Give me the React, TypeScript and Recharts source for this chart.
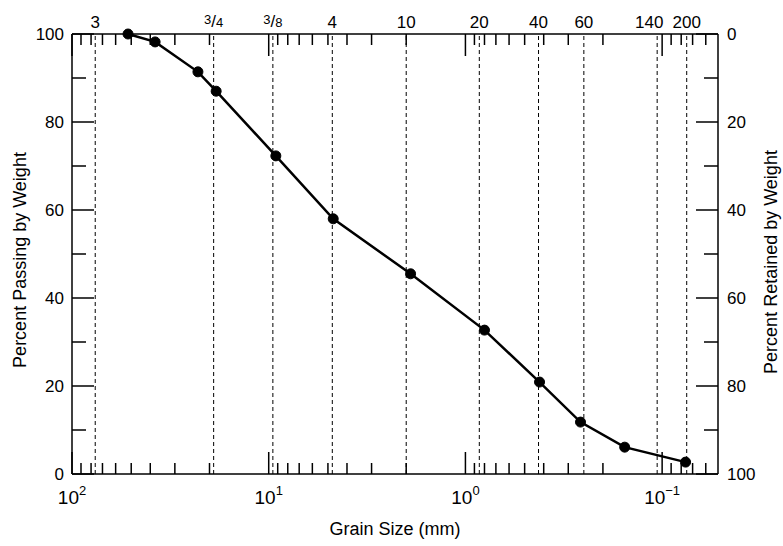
import { LineChart, Line, XAxis, YAxis, ReferenceLine } from 'recharts'

// sieve analysis
const grainSizes = [51.9, 37.8, 22.9, 18.5, 9.2, 4.7, 1.9, 0.8, 0.42, 0.26, 0.155, 0.076]
const percentPassing = [100, 98.2, 91.4, 87, 72.3, 58, 45.5, 32.7, 20.9, 11.8, 6.1, 2.7]

const sieveNames = ['3', '3/4', '3/8', '4', '10', '20', '40', '60', '140', '200']
const sieveSizes = [76.2, 19.05, 9.525, 4.75, 2.0, 0.85, 0.425, 0.25, 0.106, 0.075]

const decadeTicks = [100, 10, 1, 0.1]
const decadeExponents = ['2', '1', '0', '\u22121']
const minorTicks = [
  90, 80, 70, 60, 50, 40, 30, 20,
  9, 8, 7, 6, 5, 4, 3, 2,
  0.9, 0.8, 0.7, 0.6, 0.5, 0.4, 0.3, 0.2,
  0.09, 0.08, 0.07, 0.06,
]
const percentTicks = [0, 10, 20, 30, 40, 50, 60, 70, 80, 90, 100]
const percentLabels = [0, 20, 40, 60, 80, 100]

const sizeDomain = [0.052, 100]
const font = '"Liberation Sans", Arial, Helvetica, sans-serif'

const data = grainSizes.map((size, i) => ({ size, passing: percentPassing[i] }))

const BottomTick = ({ x, y, payload }: any) => {
  const i = decadeTicks.indexOf(payload.value)
  const major = i >= 0
  return (
    <g>
      <line x1={x} y1={y} x2={x} y2={y - (major ? 22 : 11)} stroke="#000" strokeWidth={1.5} />
      {major && (
        <text x={x} y={y + 30} textAnchor="middle" fontFamily={font} fontSize={19} fill="#000">
          10
          <tspan fontSize={13} dy={-9}>
            {decadeExponents[i]}
          </tspan>
        </text>
      )}
    </g>
  )
}

const TopTick = ({ x, y, payload }: any) => {
  const major = decadeTicks.includes(payload.value)
  return <line x1={x} y1={y} x2={x} y2={y + (major ? 22 : 11)} stroke="#000" strokeWidth={1.5} />
}

const LeftTick = ({ x, y, payload }: any) => {
  const labeled = percentLabels.includes(payload.value)
  return (
    <g>
      <line x1={x} y1={y} x2={x + (labeled ? 22 : 14)} y2={y} stroke="#000" strokeWidth={1.5} />
      {labeled && (
        <text x={x - 8} y={y} dy="0.35em" textAnchor="end" fontFamily={font} fontSize={17} fill="#000">
          {payload.value}
        </text>
      )}
    </g>
  )
}

const RightTick = ({ x, y, payload }: any) => {
  const labeled = percentLabels.includes(payload.value)
  return (
    <g>
      <line x1={x} y1={y} x2={x - (labeled ? 22 : 14)} y2={y} stroke="#000" strokeWidth={1.5} />
      {labeled && (
        <text x={x + 9} y={y} dy="0.35em" textAnchor="start" fontFamily={font} fontSize={17} fill="#000">
          {payload.value}
        </text>
      )}
    </g>
  )
}

const SieveLabel = ({ viewBox, name }: any) => {
  const { x, y } = viewBox
  if (name.includes('/')) {
    const [a, b] = name.split('/')
    return (
      <text x={x} y={y - 7} textAnchor="middle" fontFamily={font} fill="#000">
        <tspan fontSize={13} dy={-3}>{a}</tspan>
        <tspan fontSize={17} dy={3}>/</tspan>
        <tspan fontSize={13}>{b}</tspan>
      </text>
    )
  }
  // 140 and 200 sit close together, nudge 140 left like the original
  const dx = name === '140' ? -8 : 0
  return (
    <text x={x + dx} y={y - 6} textAnchor="middle" fontFamily={font} fontSize={17} fill="#000">
      {name}
    </text>
  )
}

const LeftTitle = ({ viewBox }: any) => {
  const cx = viewBox.x + 8
  const cy = viewBox.y + viewBox.height / 2 + 6
  return (
    <text x={cx} y={cy} dy="0.35em" transform={`rotate(-90 ${cx} ${cy})`} textAnchor="middle"
      fontFamily={font} fontSize={18} fill="#000">
      Percent Passing by Weight
    </text>
  )
}

const RightTitle = ({ viewBox }: any) => {
  const cx = viewBox.x + viewBox.width - 7
  const cy = viewBox.y + viewBox.height / 2 + 8
  return (
    <text x={cx} y={cy} dy="0.35em" transform={`rotate(-90 ${cx} ${cy})`} textAnchor="middle"
      fontFamily={font} fontSize={18} fill="#000">
      Percent Retained by Weight
    </text>
  )
}

const BottomTitle = ({ viewBox }: any) => (
  <text x={viewBox.x + viewBox.width / 2} y={viewBox.y + 61} textAnchor="middle"
    fontFamily={font} fontSize={18} fill="#000">
    Grain Size (mm)
  </text>
)

const axisStroke = { stroke: '#000', strokeWidth: 1.5 }

export default function App() {
  return (
    <div style={{ width: 783, height: 546, background: '#fff' }}>
      <style>{'body{margin:0}'}</style>
      <LineChart width={783} height={546} data={data} margin={{ top: 4, right: 5, bottom: 12, left: 12 }}>
        <XAxis
          xAxisId="bottom"
          dataKey="size"
          type="number"
          scale="log"
          domain={sizeDomain}
          allowDataOverflow
          reversed
          ticks={[...decadeTicks, ...minorTicks]}
          interval={0}
          tickSize={0}
          tickMargin={0}
          tick={(p: any) => <BottomTick {...p} />}
          axisLine={axisStroke}
          height={60}
          label={(p: any) => <BottomTitle {...p} />}
        />
        <XAxis
          xAxisId="top"
          orientation="top"
          dataKey="size"
          type="number"
          scale="log"
          domain={sizeDomain}
          allowDataOverflow
          reversed
          ticks={[...decadeTicks, ...minorTicks]}
          interval={0}
          tickSize={0}
          tickMargin={0}
          tick={(p: any) => <TopTick {...p} />}
          axisLine={axisStroke}
          height={30}
        />
        <YAxis
          yAxisId="left"
          type="number"
          domain={[0, 100]}
          ticks={percentTicks}
          interval={0}
          tickSize={0}
          tickMargin={0}
          tick={(p: any) => <LeftTick {...p} />}
          axisLine={axisStroke}
          width={60}
          label={(p: any) => <LeftTitle {...p} />}
        />
        <YAxis
          yAxisId="right"
          orientation="right"
          dataKey="passing"
          type="number"
          domain={[0, 100]}
          allowDataOverflow
          reversed
          ticks={percentTicks}
          interval={0}
          tickSize={0}
          tickMargin={0}
          tick={(p: any) => <RightTick {...p} />}
          axisLine={axisStroke}
          width={60}
          label={(p: any) => <RightTitle {...p} />}
        />
        {sieveSizes.map((s, i) => (
          <ReferenceLine
            key={sieveNames[i]}
            xAxisId="bottom"
            yAxisId="left"
            x={s}
            stroke="#000"
            strokeWidth={1}
            strokeDasharray="4 3"
            label={(p: any) => <SieveLabel {...p} name={sieveNames[i]} />}
          />
        ))}
        <Line
          xAxisId="bottom"
          yAxisId="left"
          type="linear"
          dataKey="passing"
          stroke="#000"
          strokeWidth={2.5}
          dot={{ r: 5, fill: '#000', stroke: '#000', strokeWidth: 1 }}
          isAnimationActive={false}
        />
      </LineChart>
    </div>
  )
}
